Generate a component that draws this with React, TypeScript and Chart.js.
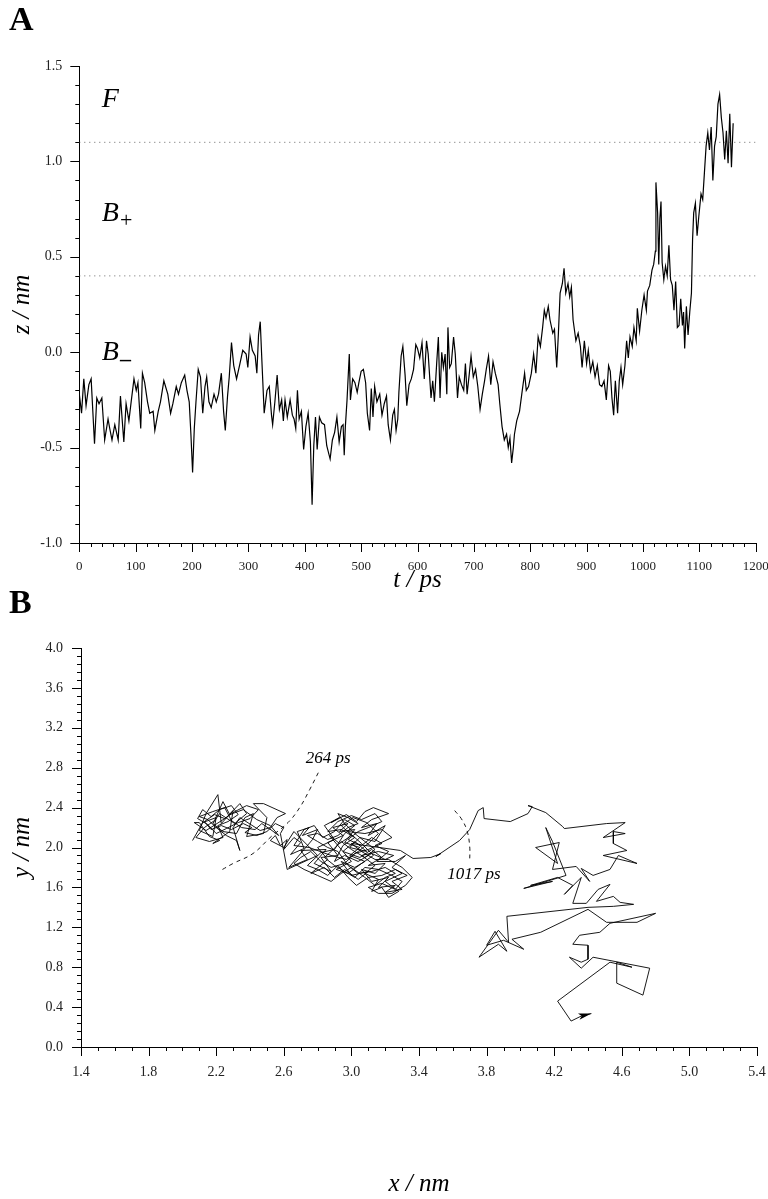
import React, { useEffect, useRef } from "react";
import { Chart, registerables } from "chart.js";

Chart.register(...registerables);

const SERIF = '"Liberation Serif", "Times New Roman", serif';

// ---------- Panel A: z(t) ----------
const timePs = [
  0, 4, 8, 12, 17, 21, 27, 31, 35, 40,
  45, 51, 54, 58, 63, 69, 73, 79, 83, 88,
  92, 97, 101, 104, 109, 112, 116, 121, 125, 131,
  134, 140, 144, 150, 157, 162, 166, 172, 176, 181,
  187, 191, 195, 198, 201, 204, 207, 211, 215, 219,
  223, 226, 230, 234, 239, 243, 247, 252, 256, 259,
  263, 266, 270, 274, 279, 285, 290, 296, 299, 303,
  307, 312, 315, 318, 321, 324, 328, 333, 337, 341,
  343, 347, 351, 355, 359, 362, 365, 369, 374, 378,
  381, 384, 387, 390, 394, 398, 402, 406, 410, 413,
  416, 419, 422, 426, 430, 435, 439, 445, 449, 453,
  457, 461, 465, 468, 470, 472, 475, 479, 481, 485,
  489, 493, 496, 500, 504, 508, 511, 515, 518, 521,
  524, 528, 533, 537, 541, 545, 548, 552, 556, 559,
  562, 565, 567, 571, 574, 578, 581, 585, 589, 593,
  597, 600, 604, 608, 612, 616, 619, 624, 627, 630,
  634, 637, 640, 643, 646, 649, 652, 654, 657, 660,
  664, 667, 671, 674, 678, 682, 685, 688, 692, 695,
  699, 703, 707, 711, 715, 719, 722, 726, 730, 734,
  738, 743, 746, 750, 754, 758, 761, 764, 767, 770,
  772, 776, 781, 785, 790, 793, 797, 802, 806, 810,
  814, 818, 822, 825, 828, 832, 835, 840, 843, 847,
  850, 853, 857, 860, 863, 867, 870, 873, 876, 881,
  885, 889, 892, 896, 900, 903, 907, 911, 915, 919,
  923, 927, 931, 935, 939, 942, 945, 948, 951, 955,
  958, 961, 964, 968, 971, 974, 977, 981, 984, 988,
  990, 994, 998, 1002, 1006, 1008, 1012, 1016, 1019, 1022,
  1023, 1026, 1028, 1030, 1032, 1034, 1037, 1040, 1043, 1046,
  1049, 1052, 1055, 1058, 1061, 1064, 1067, 1070, 1072, 1074,
  1077, 1080, 1083, 1086, 1088, 1090, 1093, 1096, 1099, 1103,
  1106, 1109, 1112, 1115, 1118, 1121, 1124, 1127, 1130, 1133,
  1136, 1139, 1142, 1145, 1148, 1151, 1154, 1157, 1160,
];
const zNm = [
  -0.22, -0.32, -0.14, -0.28, -0.17, -0.14, -0.48, -0.24, -0.27, -0.24,
  -0.46, -0.35, -0.40, -0.46, -0.38, -0.46, -0.23, -0.47, -0.27, -0.36,
  -0.26, -0.14, -0.20, -0.16, -0.40, -0.11, -0.16, -0.26, -0.32, -0.31,
  -0.41, -0.31, -0.26, -0.15, -0.22, -0.32, -0.27, -0.18, -0.22, -0.16,
  -0.12, -0.20, -0.26, -0.43, -0.63, -0.40, -0.26, -0.09, -0.13, -0.32,
  -0.18, -0.13, -0.26, -0.29, -0.22, -0.26, -0.22, -0.11, -0.31, -0.41,
  -0.23, -0.13, 0.05, -0.07, -0.14, -0.06, 0.01, -0.01, -0.08, 0.08,
  0.01, -0.02, -0.11, 0.09, 0.16, -0.05, -0.32, -0.20, -0.18, -0.33,
  -0.38, -0.26, -0.12, -0.30, -0.25, -0.36, -0.25, -0.34, -0.25, -0.33,
  -0.35, -0.40, -0.20, -0.35, -0.31, -0.51, -0.39, -0.32, -0.47, -0.80,
  -0.49, -0.34, -0.51, -0.34, -0.37, -0.38, -0.49, -0.56, -0.46, -0.42,
  -0.34, -0.47, -0.39, -0.38, -0.54, -0.39, -0.25, -0.01, -0.25, -0.14,
  -0.16, -0.21, -0.16, -0.10, -0.09, -0.16, -0.32, -0.41, -0.19, -0.34,
  -0.18, -0.26, -0.22, -0.33, -0.27, -0.23, -0.38, -0.46, -0.33, -0.30,
  -0.41, -0.35, -0.21, -0.02, 0.03, -0.12, -0.28, -0.17, -0.14, -0.09,
  0.04, 0.02, -0.03, 0.05, -0.14, 0.06, -0.01, -0.24, -0.15, -0.26,
  -0.06, 0.08, -0.24, 0.00, -0.08, -0.01, -0.22, 0.13, -0.08, -0.06,
  0.08, -0.01, -0.24, -0.13, -0.17, -0.20, -0.06, -0.22, -0.11, -0.02,
  -0.13, -0.09, -0.18, -0.30, -0.22, -0.15, -0.09, -0.02, -0.17, -0.05,
  -0.11, -0.17, -0.27, -0.39, -0.46, -0.43, -0.50, -0.45, -0.58, -0.50,
  -0.43, -0.36, -0.31, -0.22, -0.11, -0.20, -0.18, -0.11, -0.01, -0.11,
  0.08, 0.03, 0.13, 0.22, 0.18, 0.24, 0.17, 0.10, 0.12, -0.08,
  0.10, 0.31, 0.36, 0.44, 0.31, 0.36, 0.29, 0.34, 0.17, 0.06,
  0.10, 0.03, -0.08, 0.06, -0.06, 0.01, -0.10, -0.05, -0.13, -0.07,
  -0.17, -0.18, -0.15, -0.25, -0.07, -0.10, -0.24, -0.33, -0.15, -0.32,
  -0.15, -0.08, -0.17, -0.07, 0.06, -0.03, 0.08, 0.03, 0.13, 0.06,
  0.23, 0.11, 0.22, 0.30, 0.22, 0.32, 0.35, 0.43, 0.46, 0.53,
  0.89, 0.73, 0.46, 0.70, 0.79, 0.47, 0.38, 0.45, 0.40, 0.56,
  0.38, 0.35, 0.22, 0.37, 0.13, 0.14, 0.28, 0.14, 0.21, 0.02,
  0.24, 0.09, 0.21, 0.31, 0.59, 0.73, 0.78, 0.61, 0.71, 0.83,
  0.80, 0.94, 1.08, 1.15, 1.06, 1.18, 0.90, 1.08, 1.13, 1.30,
  1.35, 1.23, 1.15, 1.01, 1.16, 0.99, 1.25, 0.97, 1.20,
];
const boundaryF = 1.1;
const boundaryB = 0.4;
const tTickLabels = [0, 100, 200, 300, 400, 500, 600, 700, 800, 900, 1000, 1100, 1200];
const zTickLabels = [-1.0, -0.5, 0.0, 0.5, 1.0, 1.5];

// ---------- Panel B: x-y trajectory (in time order) ----------
// before 264 ps
const leftClusterX = [
  2.06, 2.12, 2.20, 2.18, 2.10, 2.14, 2.21, 2.23, 2.30, 2.28,
  2.18, 2.22, 2.16, 2.10, 2.07, 2.14, 2.26, 2.34, 2.38, 2.31,
  2.22, 2.18, 2.24, 2.32, 2.37, 2.42, 2.38, 2.48, 2.50, 2.42,
  2.48, 2.61, 2.56, 2.52, 2.46, 2.34, 2.30, 2.34, 2.32, 2.26,
  2.20, 2.15, 2.10, 2.18, 2.25, 2.29, 2.35, 2.43, 2.47, 2.53,
  2.57, 2.52, 2.44, 2.36, 2.28, 2.24, 2.19, 2.13, 2.08, 2.16,
  2.24, 2.21, 2.27, 2.33, 2.29, 2.22, 2.17, 2.12, 2.09, 2.15,
  2.20, 2.26, 2.33, 2.40, 2.45, 2.38, 2.31, 2.25, 2.19, 2.13,
  2.17, 2.23, 2.29, 2.36, 2.41, 2.37, 2.44, 2.50, 2.55, 2.60,
  2.58,
];
const leftClusterY = [
  2.07, 2.25, 2.30, 2.11, 2.17, 2.34, 2.53, 2.24, 2.37, 2.16,
  2.04, 2.07, 2.11, 2.25, 2.25, 2.17, 2.30, 2.44, 2.34, 2.24,
  2.34, 2.24, 2.16, 2.14, 2.30, 2.34, 2.11, 2.14, 2.30, 2.44,
  2.44, 2.34, 2.30, 2.20, 2.17, 2.30, 2.20, 1.97, 2.07, 2.12,
  2.20, 2.28, 2.31, 2.36, 2.40, 2.27, 2.20, 2.18, 2.24, 2.17,
  2.12, 2.22, 2.28, 2.38, 2.33, 2.46, 2.27, 2.20, 2.10, 2.06,
  2.10, 2.22, 2.26, 2.33, 2.42, 2.38, 2.31, 2.38, 2.29, 2.23,
  2.14, 2.19, 2.25, 2.29, 2.38, 2.42, 2.36, 2.29, 2.33, 2.26,
  2.18, 2.22, 2.18, 2.24, 2.20, 2.15, 2.12, 2.16, 2.24, 2.20,
  2.14,
];
// 264 ps to 1017 ps
const midClusterX = [
  2.62, 2.80, 2.66, 2.60,
  2.52, 2.55, 2.58, 2.62, 2.60, 2.66, 2.70, 2.64, 2.72, 2.68,
  2.75, 2.71, 2.80, 2.77, 2.63, 2.74, 2.70, 2.85, 2.78, 2.88,
  2.82, 2.92, 2.86, 2.95, 2.89, 2.98, 2.93, 3.02, 2.96, 3.05,
  2.99, 3.08, 3.02, 2.94, 3.00, 3.10, 3.04, 2.96, 2.90, 2.84,
  2.76, 2.86, 2.80, 2.90, 2.84, 2.93, 2.88, 2.97, 3.03, 3.08,
  3.13, 3.22, 3.12, 3.06, 3.15, 3.10, 3.20, 3.14, 3.05, 2.99,
  3.09, 3.02, 2.95, 3.05, 3.12, 3.18, 3.10, 3.20, 3.14, 3.06,
  3.12, 3.22, 3.16, 3.26, 3.20, 3.30, 3.24, 3.33, 3.26, 3.18,
  3.10, 3.03, 2.98, 2.92, 2.86, 2.80, 2.74, 2.82, 2.90, 2.96,
  3.02, 2.96, 2.90, 2.83, 2.78, 2.72, 2.66, 2.75, 2.88, 2.97,
  3.04, 3.10, 3.16, 3.09, 3.01, 2.94, 3.00, 2.93, 2.87, 2.94,
  3.00, 2.91, 2.98, 3.06, 3.13, 3.06, 2.98, 3.08, 3.18, 3.24,
  3.14, 3.22, 3.15, 3.26, 3.32, 3.24, 3.30, 3.20, 3.28, 3.22,
  3.18, 3.12, 3.16, 3.08, 3.14, 3.06, 3.16, 3.25,
  3.20, 3.12, 3.04, 2.96, 2.90, 2.95, 3.02, 2.94, 2.86, 2.92,
  3.00, 3.06, 3.14, 3.18, 3.10, 3.04, 2.98, 3.06, 3.12, 3.18,
  3.10, 3.02, 2.96, 2.88, 2.82, 2.76, 2.70, 2.66, 2.72, 2.80,
  2.88, 2.94, 3.00, 3.08, 3.14, 3.20, 3.26, 3.20, 3.12, 3.04,
  2.98, 2.92, 2.86, 2.80, 2.74, 2.80, 2.86, 2.92, 2.98, 3.04,
  2.98, 2.92, 2.96, 3.02, 3.08, 3.14, 3.08, 3.00, 2.94, 2.88,
  2.84, 2.90, 2.96, 3.02, 3.08, 3.16, 3.24, 3.30, 3.26, 3.18,
  3.10, 3.16, 3.24, 3.32, 3.36, 3.30, 3.22, 3.14, 3.06, 3.00,
];
const midClusterY = [
  1.78, 1.92, 2.16, 2.00,
  2.07, 2.12, 2.02, 2.08, 1.98, 2.10, 2.05, 1.93, 1.99, 2.16,
  2.20, 2.12, 2.18, 2.08, 1.80, 1.88, 1.97, 1.98, 1.84, 1.76,
  1.90, 1.92, 2.05, 2.12, 2.20, 2.24, 2.16, 2.18, 2.05, 2.00,
  1.92, 1.86, 1.80, 1.86, 1.72, 1.76, 1.68, 1.78, 1.70, 1.80,
  1.74, 1.88, 2.00, 2.08, 2.22, 2.30, 2.25, 2.33, 2.26, 2.36,
  2.40, 2.34, 2.28, 2.20, 2.24, 2.12, 2.22, 2.06, 2.10, 2.00,
  1.96, 2.06, 1.96, 1.90, 1.98, 1.90, 1.82, 1.84, 1.74, 1.78,
  1.66, 1.70, 1.60, 1.62, 1.55, 1.58, 1.66, 1.72, 1.78, 1.72,
  1.70, 1.62, 1.70, 1.82, 1.72, 1.78, 1.82, 1.95, 1.98, 2.14,
  2.22, 2.28, 2.16, 2.10, 2.22, 2.18, 2.02, 2.00, 1.92, 1.88,
  1.96, 2.04, 2.14, 2.25, 2.30, 2.22, 2.12, 2.04, 2.12, 1.98,
  1.86, 1.78, 1.74, 1.84, 1.92, 2.04, 2.16, 2.14, 2.18, 2.10,
  2.02, 1.96, 1.86, 1.86, 1.92, 1.80, 1.74, 1.66, 1.56, 1.50,
  1.60, 1.56, 1.68, 1.74, 1.82, 1.92, 1.96, 1.92,
  1.88, 1.94, 1.86, 1.92, 1.86, 2.02, 2.10, 2.18, 2.16, 2.26,
  2.32, 2.28, 2.34, 2.26, 2.20, 2.16, 2.08, 2.02, 2.10, 2.04,
  1.98, 1.94, 1.84, 1.80, 1.86, 1.96, 1.90, 1.84, 1.78, 1.72,
  1.66, 1.74, 1.80, 1.70, 1.62, 1.70, 1.74, 1.80, 1.76, 1.74,
  1.82, 1.96, 2.00, 2.06, 2.12, 2.14, 2.08, 2.12, 2.20, 2.24,
  2.30, 2.34, 2.24, 2.14, 2.06, 1.98, 1.90, 1.98, 2.06, 1.96,
  1.90, 1.82, 1.76, 1.70, 1.80, 1.78, 1.72, 1.66, 1.58, 1.64,
  1.60, 1.54, 1.54, 1.62, 1.70, 1.80, 1.88, 1.88, 1.96, 2.04,
];
// after 1017 ps
const exitPathX = [
  3.29, 3.365,
  3.47, 3.53, 3.50, 3.64, 3.70, 3.75, 3.78, 3.785, 3.94, 4.045,
  4.07, 4.045, 4.15, 4.25, 4.26, 4.51, 4.62, 4.49, 4.62, 4.55,
  4.55, 4.63, 4.49, 4.69, 4.58, 4.53, 4.43, 4.36, 4.41, 4.33,
  4.19, 4.23, 4.09, 4.22, 4.15, 4.19, 4.27, 4.02, 4.19, 4.06,
  4.22, 4.31, 4.26, 4.36, 4.31, 4.39, 4.46, 4.53, 4.45, 4.55,
  4.59, 4.67, 4.55, 4.40, 3.92, 3.93, 3.87, 3.755, 3.87, 3.92,
  3.85, 3.80, 3.90, 4.02, 3.95, 4.12, 4.40, 4.51, 4.69, 4.80,
  4.53, 4.47, 4.35, 4.31, 4.40, 4.40, 4.36, 4.29, 4.36, 4.43,
  4.765, 4.725, 4.57, 4.57, 4.66, 4.53, 4.22, 4.30, 4.36, 4.42,
];
const exitPathY = [
  1.97, 1.89,
  1.90, 1.94, 1.91, 2.07, 2.18, 2.37, 2.40, 2.29, 2.26, 2.34,
  2.41, 2.42, 2.35, 2.21, 2.19, 2.24, 2.25, 2.10, 2.14, 2.16,
  2.04, 1.97, 1.92, 1.84, 1.92, 1.78, 1.72, 1.79, 1.66, 1.81,
  1.78, 2.05, 2.00, 1.84, 2.20, 2.06, 1.72, 1.59, 1.66, 1.62,
  1.70, 1.62, 1.53, 1.70, 1.44, 1.44, 1.58, 1.63, 1.46, 1.51,
  1.45, 1.43, 1.41, 1.40, 1.31, 1.05, 1.17, 0.90, 1.03, 0.96,
  1.16, 1.02, 1.07, 0.98, 1.08, 1.15, 1.38, 1.25, 1.25, 1.34,
  1.24, 1.15, 1.12, 1.03, 1.02, 0.88, 0.85, 0.90, 0.79, 0.90,
  0.79, 0.52, 0.64, 0.85, 0.80, 0.85, 0.46, 0.26, 0.31, 0.335,
];
const arc264X = [2.237, 2.30, 2.418, 2.526, 2.625, 2.694, 2.753, 2.813];
const arc264Y = [1.78, 1.84, 1.94, 2.11, 2.25, 2.40, 2.58, 2.78];
const arc1017X = [3.611, 3.65, 3.684, 3.70, 3.70];
const arc1017Y = [2.37, 2.29, 2.17, 2.01, 1.87];
const xTickLabels = [1.4, 1.8, 2.2, 2.6, 3.0, 3.4, 3.8, 4.2, 4.6, 5.0, 5.4];
const yTickLabels = [0.0, 0.4, 0.8, 1.2, 1.6, 2.0, 2.4, 2.8, 3.2, 3.6, 4.0];

const trajX = [...leftClusterX, ...midClusterX, ...exitPathX];
const trajY = [...leftClusterY, ...midClusterY, ...exitPathY];

// ---------- helpers ----------
function range(min: number, max: number, step: number): number[] {
  const out: number[] = [];
  const n = Math.round((max - min) / step);
  for (let i = 0; i <= n; i++) out.push(+(min + i * step).toFixed(6));
  return out;
}
const near = (arr: number[], v: number) => arr.some((m) => Math.abs(m - v) < 1e-6);

function ticksPlugin(xMinor: number[], xMajor: number[], yMinor: number[], yMajor: number[]) {
  return {
    id: "axisTicks",
    afterDraw(chart: any) {
      const { ctx, chartArea } = chart;
      const xs = chart.scales.x;
      const ys = chart.scales.y;
      ctx.save();
      ctx.strokeStyle = "#000";
      ctx.lineWidth = 1;
      ctx.beginPath();
      xMinor.forEach((v) => {
        const p = Math.round(xs.getPixelForValue(v)) + 0.5;
        const len = near(xMajor, v) ? 9 : 4;
        ctx.moveTo(p, chartArea.bottom);
        ctx.lineTo(p, chartArea.bottom + len);
      });
      yMinor.forEach((v) => {
        const p = Math.round(ys.getPixelForValue(v)) + 0.5;
        const len = near(yMajor, v) ? 9 : 4;
        ctx.moveTo(chartArea.left, p);
        ctx.lineTo(chartArea.left - len, p);
      });
      ctx.stroke();
      ctx.restore();
    },
  };
}

type Note = { x: number; y: number; text: string; font: string; align?: CanvasTextAlign; sub?: string; subFont?: string; subDy?: number };

function notesPlugin(notes: Note[]) {
  return {
    id: "notes",
    afterDraw(chart: any) {
      const { ctx } = chart;
      const xs = chart.scales.x;
      const ys = chart.scales.y;
      ctx.save();
      ctx.fillStyle = "#000";
      ctx.textBaseline = "alphabetic";
      notes.forEach((n) => {
        const px = xs.getPixelForValue(n.x);
        const py = ys.getPixelForValue(n.y);
        ctx.font = n.font;
        ctx.textAlign = n.align || "left";
        ctx.fillText(n.text, px, py);
        if (n.sub) {
          const w = ctx.measureText(n.text).width;
          ctx.font = n.subFont || n.font;
          ctx.textAlign = "left";
          ctx.fillText(n.sub, px + w + 1, py + (n.subDy || 6));
        }
      });
      ctx.restore();
    },
  };
}

const arrowPlugin = {
  id: "arrowHead",
  afterDatasetsDraw(chart: any) {
    const meta = chart.getDatasetMeta(0);
    const pts = meta.data;
    if (!pts || pts.length < 2) return;
    const a = pts[pts.length - 2];
    const b = pts[pts.length - 1];
    const ang = Math.atan2(b.y - a.y, b.x - a.x);
    const L = 13;
    const W = 3.2;
    const { ctx } = chart;
    ctx.save();
    ctx.fillStyle = "#000";
    ctx.translate(b.x, b.y);
    ctx.rotate(ang);
    ctx.beginPath();
    ctx.moveTo(0, 0);
    ctx.lineTo(-L, -W);
    ctx.lineTo(-L + 3, 0);
    ctx.lineTo(-L, W);
    ctx.closePath();
    ctx.fill();
    ctx.restore();
  },
};

const tickFont = { family: SERIF, size: 14 };
const tickFontA = { family: SERIF, size: 13 };
const titleFont = { family: SERIF, size: 25, style: "italic" as const };

export default function App() {
  const refA = useRef<HTMLCanvasElement>(null);
  const refB = useRef<HTMLCanvasElement>(null);

  useEffect(() => {
    Chart.defaults.font.family = SERIF;

    // ---- Panel A ----
    const zPoints = timePs.map((t, i) => ({ x: t, y: zNm[i] }));
    const chartA = new Chart(refA.current as HTMLCanvasElement, {
      type: "line",
      data: {
        datasets: [
          {
            data: [{ x: 0, y: boundaryF }, { x: 1200, y: boundaryF }],
            borderColor: "#666",
            borderWidth: 1,
            borderDash: [1, 4],
            pointRadius: 0,
          },
          {
            data: [{ x: 0, y: boundaryB }, { x: 1200, y: boundaryB }],
            borderColor: "#666",
            borderWidth: 1,
            borderDash: [1, 4],
            pointRadius: 0,
          },
          {
            data: zPoints,
            borderColor: "#000",
            borderWidth: 1.2,
            pointRadius: 0,
            tension: 0,
          },
        ],
      },
      options: {
        responsive: false,
        animation: false,
        devicePixelRatio: 1,
        layout: { padding: { left: 0, top: 66, right: 12.3, bottom: 0 } },
        plugins: { legend: { display: false }, tooltip: { enabled: false } },
        scales: {
          x: {
            type: "linear",
            min: 0,
            max: 1200,
            afterBuildTicks: (s: any) => {
              s.ticks = tTickLabels.map((v) => ({ value: v }));
            },
            afterFit: (s: any) => {
              s.height = 57;
              s.paddingLeft = 0;
              s.paddingRight = 0;
            },
            grid: { display: false, drawTicks: true, tickLength: 9 },
            border: { display: true, color: "#000", width: 1 },
            ticks: { font: tickFontA, color: "#222", padding: 7, maxRotation: 0, autoSkip: false, callback: (v: any) => String(v) },
            title: { display: true, text: "t / ps", font: titleFont, color: "#000", padding: { top: 0, bottom: 5 } },
          },
          y: {
            type: "linear",
            min: -1,
            max: 1.5,
            afterBuildTicks: (s: any) => {
              s.ticks = zTickLabels.map((v) => ({ value: v }));
            },
            afterFit: (s: any) => {
              s.width = 79.3;
              s.paddingTop = 0;
              s.paddingBottom = 0;
            },
            grid: { display: false, drawTicks: true, tickLength: 9 },
            border: { display: true, color: "#000", width: 1 },
            ticks: { font: tickFont, color: "#222", padding: 8, autoSkip: false, callback: (v: any) => Number(v).toFixed(1) },
            title: { display: true, text: "z / nm", font: titleFont, color: "#000", padding: { top: 7, bottom: 0 } },
          },
        },
      },
      plugins: [
        ticksPlugin(range(0, 1200, 20), tTickLabels, range(-1, 1.5, 0.1), zTickLabels),
        notesPlugin([
          { x: 40, y: 1.285, text: "F", font: `italic 28px ${SERIF}` },
          { x: 40, y: 0.69, text: "B", font: `italic 28px ${SERIF}`, sub: "+", subFont: `22px ${SERIF}`, subDy: 6 },
          { x: 40, y: -0.04, text: "B", font: `italic 28px ${SERIF}`, sub: "\u2013", subFont: `bold 22px ${SERIF}`, subDy: 6 },
        ]),
      ],
    } as any);

    // ---- Panel B ----
    const trajPoints = trajX.map((x, i) => ({ x, y: trajY[i] }));
    const chartB = new Chart(refB.current as HTMLCanvasElement, {
      type: "line",
      data: {
        datasets: [
          {
            data: trajPoints,
            borderColor: "#000",
            borderWidth: 0.9,
            pointRadius: 0,
            tension: 0,
          },
          {
            data: arc264X.map((x, i) => ({ x, y: arc264Y[i] })),
            borderColor: "#000",
            borderWidth: 0.9,
            borderDash: [4, 4],
            pointRadius: 0,
            tension: 0.4,
          },
          {
            data: arc1017X.map((x, i) => ({ x, y: arc1017Y[i] })),
            borderColor: "#000",
            borderWidth: 0.9,
            borderDash: [4, 4],
            pointRadius: 0,
            tension: 0.4,
          },
        ],
      },
      options: {
        responsive: false,
        animation: false,
        devicePixelRatio: 1,
        layout: { padding: { left: 0, top: 48, right: 11, bottom: 0 } },
        plugins: { legend: { display: false }, tooltip: { enabled: false } },
        scales: {
          x: {
            type: "linear",
            min: 1.4,
            max: 5.4,
            afterBuildTicks: (s: any) => {
              s.ticks = xTickLabels.map((v) => ({ value: v }));
            },
            afterFit: (s: any) => {
              s.height = 152;
              s.paddingLeft = 0;
              s.paddingRight = 0;
            },
            grid: { display: false, drawTicks: true, tickLength: 9 },
            border: { display: true, color: "#000", width: 1 },
            ticks: { font: tickFont, color: "#222", padding: 8, maxRotation: 0, autoSkip: false, callback: (v: any) => Number(v).toFixed(1) },
            title: { display: true, text: "x / nm", font: titleFont, color: "#000", padding: { top: 0, bottom: 0 } },
          },
          y: {
            type: "linear",
            min: 0,
            max: 4,
            afterBuildTicks: (s: any) => {
              s.ticks = yTickLabels.map((v) => ({ value: v }));
            },
            afterFit: (s: any) => {
              s.width = 81;
              s.paddingTop = 0;
              s.paddingBottom = 0;
            },
            grid: { display: false, drawTicks: true, tickLength: 9 },
            border: { display: true, color: "#000", width: 1 },
            ticks: { font: tickFont, color: "#222", padding: 9, autoSkip: false, callback: (v: any) => Number(v).toFixed(1) },
            title: { display: true, text: "y / nm", font: titleFont, color: "#000", padding: { top: 7, bottom: 0 } },
          },
        },
      },
      plugins: [
        ticksPlugin(range(1.4, 5.4, 0.1), xTickLabels, range(0, 4, 0.08), yTickLabels),
        arrowPlugin,
        notesPlugin([
          { x: 2.862, y: 2.85, text: "264 ps", font: `italic 17px ${SERIF}`, align: "center" },
          { x: 3.725, y: 1.68, text: "1017 ps", font: `italic 17px ${SERIF}`, align: "center" },
        ]),
      ],
    } as any);

    return () => {
      chartA.destroy();
      chartB.destroy();
    };
  }, []);

  const letter: React.CSSProperties = {
    position: "absolute",
    left: 9,
    fontFamily: SERIF,
    fontWeight: "bold",
    fontSize: 34,
    lineHeight: "34px",
    color: "#000",
  };

  return (
    <div style={{ position: "absolute", left: 0, top: 0, width: 768, height: 1199, background: "#fff", overflow: "hidden" }}>
      <canvas ref={refA} width={768} height={600} style={{ position: "absolute", left: 0, top: 0 }} />
      <canvas ref={refB} width={768} height={599} style={{ position: "absolute", left: 0, top: 600 }} />
      <div style={{ ...letter, top: 2 }}>A</div>
      <div style={{ ...letter, top: 585 }}>B</div>
    </div>
  );
}
